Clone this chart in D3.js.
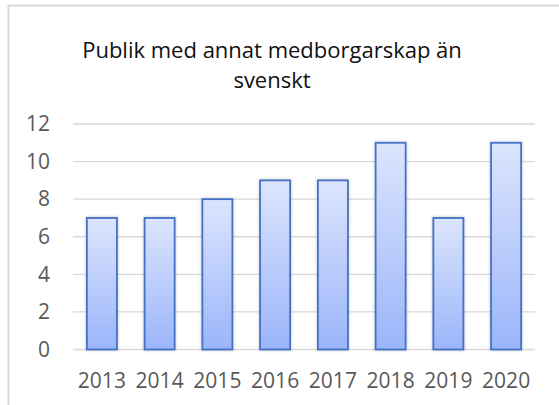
<!DOCTYPE html>
<html>
<head>
<meta charset="utf-8">
<script src="https://cdn.jsdelivr.net/npm/d3@7"></script>
<style>
  body { margin: 0; background: #fff; }
  text { font-family: "Open Sans", "Noto Sans", sans-serif; }
</style>
</head>
<body>
<div id="chart"></div>
<script>
// Data
const years = ["2013", "2014", "2015", "2016", "2017", "2018", "2019", "2020"];
const values = [7, 7, 8, 9, 9, 11, 7, 11];
const yTicks = [0, 2, 4, 6, 8, 10, 12];
const titleLines = ["Publik med annat medborgarskap än", "svenskt"];

const W = 559, H = 405;
const plot = {left: 73, right: 535, top: 124, bottom: 349.5};

const svg = d3.select("#chart").append("svg")
    .attr("width", W)
    .attr("height", H);

// bar gradient + soft shadow
const defs = svg.append("defs");
const grad = defs.append("linearGradient")
    .attr("id", "barGrad")
    .attr("x1", "0").attr("y1", "0")
    .attr("x2", "0").attr("y2", "1");
grad.append("stop").attr("offset", "0%").attr("stop-color", "#dce5fd");
grad.append("stop").attr("offset", "100%").attr("stop-color", "#9bb5fa");

const shadow = defs.append("filter").attr("id", "shadow")
    .attr("x", "-20%").attr("y", "-5%").attr("width", "140%").attr("height", "110%");
shadow.append("feDropShadow")
    .attr("dx", 0).attr("dy", 0).attr("stdDeviation", 1.5)
    .attr("flood-color", "#000").attr("flood-opacity", 0.25);

// chart frame (right and bottom edges are cut off in the picture)
svg.append("rect")
    .attr("x", 8.5).attr("y", 5.5)
    .attr("width", W + 20).attr("height", H + 20)
    .attr("fill", "none")
    .attr("stroke", "#d9d9d9")
    .attr("stroke-width", 2);

const x = d3.scaleBand()
    .domain(years)
    .range([plot.left, plot.right])
    .paddingInner(0.48)
    .paddingOuter(0.24);

const y = d3.scaleLinear()
    .domain([0, 12])
    .range([plot.bottom, plot.top]);

// gridlines
svg.append("g")
    .selectAll("line")
    .data(yTicks)
    .join("line")
    .attr("x1", plot.left).attr("x2", plot.right)
    .attr("y1", d => y(d)).attr("y2", d => y(d))
    .attr("stroke", "#d9d9d9")
    .attr("stroke-width", 1.3);

// y axis labels
const yAxis = svg.append("g")
    .attr("transform", `translate(${plot.left}, 0)`)
    .call(d3.axisLeft(y).tickValues(yTicks).tickSize(0).tickPadding(23));
yAxis.select(".domain").remove();
yAxis.selectAll("text")
    .attr("fill", "#595959")
    .style("font-size", "21px")
    .style("font-family", "'Open Sans', sans-serif");

// bars
svg.append("g")
    .selectAll("rect")
    .data(values)
    .join("rect")
    .attr("x", (d, i) => x(years[i]))
    .attr("y", d => y(d))
    .attr("width", x.bandwidth())
    .attr("height", d => y(0) - y(d))
    .attr("fill", "url(#barGrad)")
    .attr("stroke", "#4472c4")
    .attr("stroke-width", 1.8)
    .attr("filter", "url(#shadow)");

// x axis labels
const xAxis = svg.append("g")
    .attr("transform", `translate(0, ${plot.bottom})`)
    .call(d3.axisBottom(x).tickSize(0).tickPadding(23.5));
xAxis.select(".domain").remove();
xAxis.selectAll("text")
    .attr("fill", "#595959")
    .style("font-size", "21px")
    .style("font-family", "'Open Sans', sans-serif");

// title, two lines
svg.append("g")
    .selectAll("text")
    .data(titleLines)
    .join("text")
    .attr("x", 272)
    .attr("y", (d, i) => 58 + i * 30)
    .attr("text-anchor", "middle")
    .attr("fill", "#111")
    .style("font-size", "22px")
    .text(d => d);
</script>
</body>
</html>
